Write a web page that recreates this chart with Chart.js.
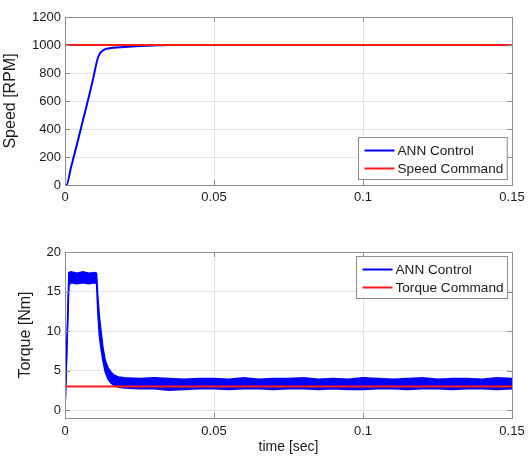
<!DOCTYPE html>
<html>
<head>
<meta charset="utf-8">
<script src="https://cdn.jsdelivr.net/npm/chart.js@4.4.0/dist/chart.umd.min.js"></script>
<style>
  html, body { margin: 0; padding: 0; background: #fff; }
  #wrap { position: relative; width: 532px; height: 457px; }
  canvas { position: absolute; left: 0; }
  #speedChart { top: 0; }
  #torqueChart { top: 228px; }
</style>
</head>
<body>
<div id="wrap">
  <canvas id="speedChart" width="532" height="228"></canvas>
  <canvas id="torqueChart" width="532" height="229"></canvas>
</div>
<script>
// time axis (s)
const timeTicks = [0, 0.05, 0.1, 0.15];

// speed response
const speedTime = [0, 0.0005, 0.002, 0.004, 0.006, 0.008, 0.0095, 0.0105, 0.0112, 0.012, 0.0129, 0.014, 0.0162, 0.02, 0.025, 0.03, 0.035, 0.15];
const speedAnn  = [0, 0, 125, 290, 460, 630, 765, 865, 918, 948, 964, 973, 981, 986, 992, 997, 1000, 1000];
const speedCmdTime = [0, 0.15];
const speedCmd     = [1000, 1000];
const speedTicks = [0, 200, 400, 600, 800, 1000, 1200];

// torque response: the ripple is drawn as an upper/lower envelope
const torqueTime  = [0, 0.0013, 0.002, 0.004, 0.006, 0.008, 0.01, 0.0106, 0.011, 0.0115, 0.012, 0.0127, 0.0135, 0.0145, 0.0155, 0.0165, 0.018, 0.02, 0.025, 0.03, 0.035, 0.04, 0.045, 0.05, 0.055, 0.06, 0.065, 0.07, 0.075, 0.08, 0.085, 0.09, 0.095, 0.1, 0.105, 0.11, 0.115, 0.12, 0.125, 0.13, 0.135, 0.14, 0.145, 0.15];
const torqueUpper = [0, 17.4, 17.5, 17.3, 17.5, 17.3, 17.4, 17.3, 14.5, 12.0, 10.3, 8.0, 6.3, 5.3, 4.8, 4.4, 4.2, 4.1, 4.0, 4.1, 4.0, 3.9, 4.0, 4.0, 3.9, 4.1, 3.9, 4.0, 4.0, 4.1, 3.9, 4.0, 3.9, 4.1, 4.0, 3.9, 4.0, 4.1, 3.9, 4.0, 4.0, 3.9, 4.1, 4.0];
const torqueLower = [0, 15.8, 16.1, 16.0, 16.1, 16.0, 16.1, 16.0, 12.5, 9.5, 8.0, 6.3, 4.8, 3.9, 3.4, 3.1, 2.9, 2.8, 2.7, 2.7, 2.5, 2.6, 2.7, 2.7, 2.6, 2.7, 2.7, 2.6, 2.7, 2.7, 2.6, 2.7, 2.6, 2.6, 2.7, 2.7, 2.6, 2.7, 2.7, 2.6, 2.7, 2.7, 2.6, 2.7];
const torqueCmdTime = [0, 0.15];
const torqueCmd     = [3, 3];
const torqueTicks = [0, 5, 10, 15, 20];

const BLUE = '#0000ff';
const RED = '#ff1a1a';
const FONT = 'Liberation Sans, Arial, sans-serif';

const pts = (xs, ys) => xs.map((x, i) => ({ x, y: ys[i] }));

// MATLAB-like box with inward ticks on all four sides
const axesBox = {
  id: 'axesBox',
  afterDatasetsDraw(chart) {
    const { ctx, chartArea: a, scales: { x, y } } = chart;
    ctx.save();
    ctx.strokeStyle = '#8c8c8c';
    ctx.lineWidth = 1;
    ctx.beginPath();
    x.ticks.forEach(t => {
      const px = Math.round(x.getPixelForValue(t.value)) + 0.5;
      ctx.moveTo(px, a.bottom); ctx.lineTo(px, a.bottom - 5);
      ctx.moveTo(px, a.top); ctx.lineTo(px, a.top + 5);
    });
    y.ticks.forEach(t => {
      const py = Math.round(y.getPixelForValue(t.value)) + 0.5;
      ctx.moveTo(a.left, py); ctx.lineTo(a.left + 5, py);
      ctx.moveTo(a.right, py); ctx.lineTo(a.right - 5, py);
    });
    ctx.stroke();
    ctx.strokeRect(Math.round(a.left) + 0.5, Math.round(a.top) + 0.5,
      Math.round(a.right - a.left), Math.round(a.bottom - a.top));
    ctx.restore();
  }
};

// legend box drawn inside the plot area
const boxLegend = {
  id: 'boxLegend',
  afterDraw(chart, args, opts) {
    const { ctx, chartArea: a } = chart;
    ctx.save();
    ctx.font = '13.6px ' + FONT;
    const textW = Math.max(...opts.items.map(it => ctx.measureText(it.label).width));
    const w = 6 + 30 + 3 + textW + 4;
    const h = 42;
    const x0 = Math.round(a.right - opts.right - w) + 0.5;
    const y0 = opts.top != null ? Math.round(a.top + opts.top) + 0.5 : Math.round(a.bottom - opts.bottom - h) + 0.5;
    ctx.fillStyle = '#fff';
    ctx.fillRect(x0, y0, w, h);
    ctx.strokeStyle = '#8c8c8c';
    ctx.lineWidth = 1;
    ctx.strokeRect(x0, y0, w, h);
    opts.items.forEach((it, i) => {
      const cy = y0 + 13 + i * 18;
      ctx.strokeStyle = it.color;
      ctx.lineWidth = 2;
      ctx.beginPath();
      ctx.moveTo(x0 + 6, cy); ctx.lineTo(x0 + 36, cy);
      ctx.stroke();
      ctx.fillStyle = '#1a1a1a';
      ctx.textBaseline = 'middle';
      ctx.fillText(it.label, x0 + 39, cy + 1);
    });
    ctx.restore();
  }
};

function axisOptions(ticks, min, max, title, titlePad, xTitle, xHeight, xPad) {
  const grid = { color: '#e4e4e4', borderDash: [2, 2], drawTicks: false };
  return {
    x: {
      type: 'linear', min: 0, max: 0.15,
      grid, border: { display: false },
      afterBuildTicks: s => { s.ticks = timeTicks.map(v => ({ value: v })); },
      afterFit: s => { s.height = xHeight; },
      ticks: { padding: xPad, color: '#1a1a1a', font: { family: FONT, size: 13 }, maxRotation: 0, callback: v => String(v) },
      title: xTitle ? { display: true, text: xTitle, color: '#1a1a1a', font: { family: FONT, size: 14 }, padding: { top: 0, bottom: 1 } } : { display: false }
    },
    y: {
      min, max,
      grid, border: { display: false },
      afterBuildTicks: s => { s.ticks = ticks.map(v => ({ value: v })); },
      afterFit: s => { s.width = 65; },
      ticks: { padding: 4, color: '#1a1a1a', font: { family: FONT, size: 13 }, callback: v => String(v) },
      title: { display: true, text: title, color: '#1a1a1a', font: { family: FONT, size: 16 }, padding: { top: titlePad, bottom: 0 } }
    }
  };
}

new Chart(document.getElementById('speedChart'), {
  type: 'line',
  data: {
    datasets: [
      { label: 'Speed Command', data: pts(speedCmdTime, speedCmd), borderColor: RED, borderWidth: 2, pointRadius: 0, fill: false },
      { label: 'ANN Control', data: pts(speedTime, speedAnn), borderColor: BLUE, borderWidth: 2, pointRadius: 0, fill: false, cubicInterpolationMode: 'monotone' }
    ]
  },
  options: {
    responsive: false,
    animation: false,
    layout: { padding: { top: 17, right: 20, left: 0, bottom: 0 } },
    plugins: {
      legend: { display: false },
      tooltip: { enabled: false },
      boxLegend: { right: 5, bottom: 6, items: [{ label: 'ANN Control', color: BLUE }, { label: 'Speed Command', color: RED }] }
    },
    scales: axisOptions(speedTicks, 0, 1200, 'Speed [RPM]', 1, null, 43, 5)
  },
  plugins: [axesBox, boxLegend]
});

new Chart(document.getElementById('torqueChart'), {
  type: 'line',
  data: {
    datasets: [
      { label: 'Torque Command', data: pts(torqueCmdTime, torqueCmd), borderColor: RED, borderWidth: 2, pointRadius: 0, fill: false },
      { label: 'ANN Control', data: pts(torqueTime, torqueUpper), borderColor: BLUE, borderWidth: 1.5, pointRadius: 0, fill: false, tension: 0 },
      { label: 'ANN Control (low)', data: pts(torqueTime, torqueLower), borderColor: BLUE, backgroundColor: BLUE, borderWidth: 1.5, pointRadius: 0, fill: '-1', tension: 0 }
    ]
  },
  options: {
    responsive: false,
    animation: false,
    layout: { padding: { top: 24, right: 20, left: 0, bottom: 0 } },
    plugins: {
      legend: { display: false },
      tooltip: { enabled: false },
      filler: { propagate: false },
      boxLegend: { right: 5, top: 4, items: [{ label: 'ANN Control', color: BLUE }, { label: 'Torque Command', color: RED }] }
    },
    scales: axisOptions(torqueTicks, -1, 20, 'Torque [Nm]', 16, 'time [sec]', 39, 6)
  },
  plugins: [axesBox, boxLegend]
});
</script>
</body>
</html>
